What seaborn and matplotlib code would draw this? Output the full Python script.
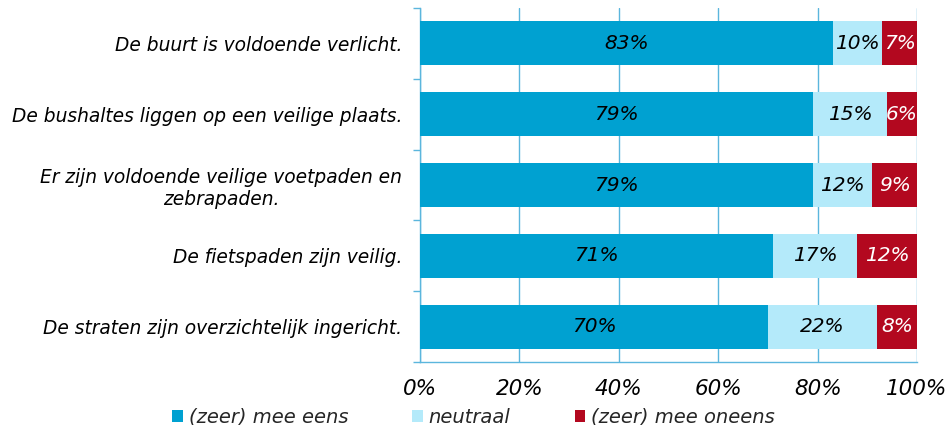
import pandas as pd
import seaborn as sns
import matplotlib.pyplot as plt
from matplotlib.patches import Patch

# Data
stellingen = [
    'De buurt is voldoende verlicht.',
    'De bushaltes liggen op een veilige plaats.',
    'Er zijn voldoende veilige voetpaden en\nzebrapaden.',
    'De fietspaden zijn veilig.',
    'De straten zijn overzichtelijk ingericht.',
]
eens = [83, 79, 79, 71, 70]
neutraal = [10, 15, 12, 17, 22]
oneens = [7, 6, 9, 12, 8]
series_names = ['(zeer) mee eens', 'neutraal', '(zeer) mee oneens']
xticks = [0, 20, 40, 60, 80, 100]

kleuren = ['#00a1d1', '#b4eafa', '#b3081f']
grid_kleur = '#5bb6dd'

df = pd.DataFrame({'stelling': stellingen, 'eens': eens,
                   'neutraal': neutraal, 'oneens': oneens})
df['cum1'] = df['eens']
df['cum2'] = df['eens'] + df['neutraal']
df['cum3'] = df['cum2'] + df['oneens']

sns.set_theme(style='white')
plt.rcParams['font.family'] = ['DejaVu Sans']

fig = plt.figure(figsize=(9.47, 4.25), dpi=100)
ax = fig.add_axes([420 / 947, 1 - 362 / 425, 497 / 947, 354 / 425])

# Gestapelde balken: van achter naar voren tekenen
for col, kleur in zip(['cum3', 'cum2', 'cum1'], kleuren[::-1]):
    sns.barplot(data=df, y='stelling', x=col, orient='h', color=kleur,
                width=0.62, saturation=1, edgecolor='none', ax=ax, zorder=3)

# Labels in de balken
for i, row in df.iterrows():
    starts = [0, row['cum1'], row['cum2']]
    vals = [row['eens'], row['neutraal'], row['oneens']]
    for j, (s, v) in enumerate(zip(starts, vals)):
        ax.text(s + v / 2, i, f'{v}%', ha='center', va='center',
                fontsize=14.5, style='italic',
                color='white' if j == 2 else 'black', zorder=5)

ax.set_xlim(0, 100)
ax.set_ylim(4.5, -0.5)
ax.set_xticks(xticks)
ax.set_xticklabels([f'{t}%' for t in xticks], fontsize=15.5, style='italic')
ax.set_xlabel('')
ax.set_ylabel('')
ax.set_yticks(range(len(stellingen)))
ax.set_yticklabels(stellingen, fontsize=13.4, style='italic',
                   multialignment='center')
ax.set_yticks([k - 0.5 for k in range(len(stellingen) + 1)], minor=True)

ax.xaxis.grid(True, color=grid_kleur, linewidth=1, zorder=0)
ax.yaxis.grid(False)
for side in ['top', 'right']:
    ax.spines[side].set_visible(False)
for side in ['left', 'bottom']:
    ax.spines[side].set_color(grid_kleur)
    ax.spines[side].set_linewidth(1)

ax.tick_params(axis='x', which='major', direction='out', length=5,
               color=grid_kleur, pad=7, labelcolor='black')
ax.tick_params(axis='y', which='major', length=0, pad=13, labelcolor='black')
ax.tick_params(axis='y', which='minor', direction='out', length=5,
               color=grid_kleur, left=True)

handles = [Patch(facecolor=k, edgecolor='none') for k in kleuren]
fig.legend(handles, series_names, loc='lower center', ncol=3,
           bbox_to_anchor=(0.5, -0.045), frameon=False,
           prop={'size': 14, 'style': 'italic'},
           handlelength=0.55, handleheight=0.55, handletextpad=0.3,
           columnspacing=3.3)

fig.savefig('out.png', dpi=100)
